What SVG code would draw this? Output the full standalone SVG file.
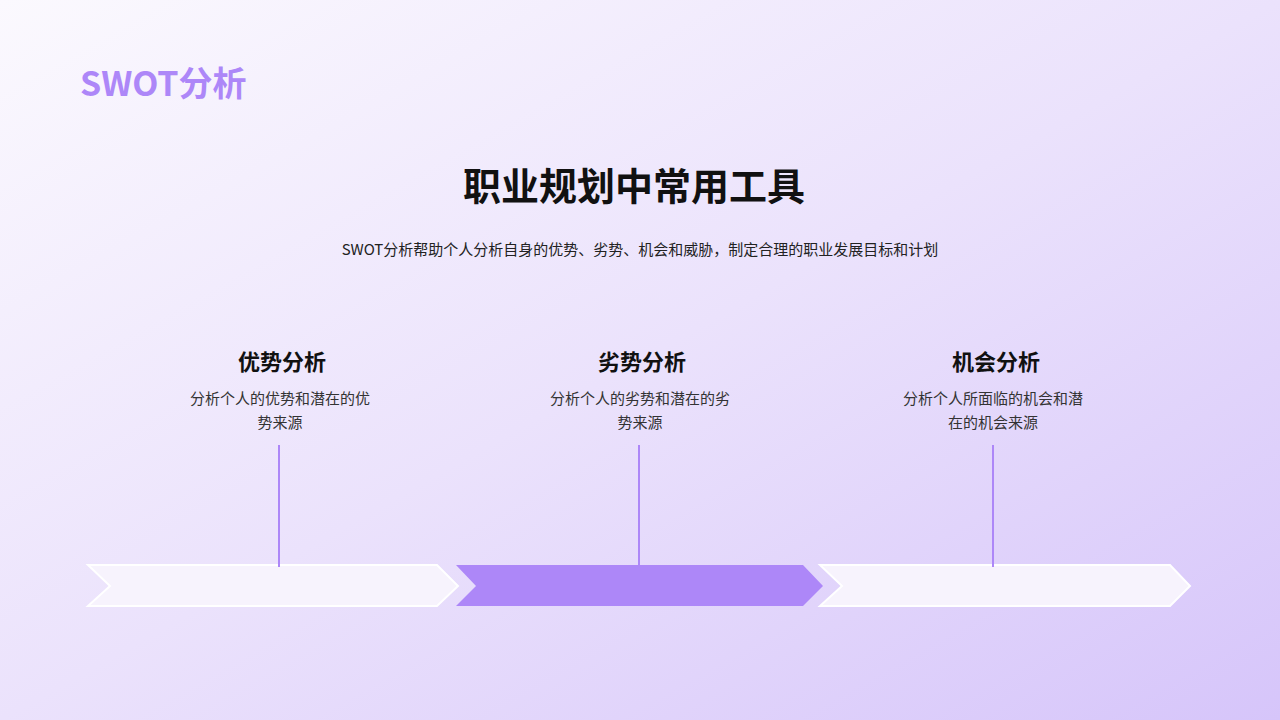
<svg xmlns="http://www.w3.org/2000/svg" width="1280" height="720" viewBox="0 0 1280 720">
<defs>
<linearGradient id="bg" x1="0" y1="0" x2="1" y2="1"><stop offset="0" stop-color="#fbf9fe"/><stop offset="0.5" stop-color="#ebe2fc"/><stop offset="1" stop-color="#d6c5fa"/></linearGradient>
<style>
.t{font-family:"Noto Sans CJK SC","Liberation Sans",sans-serif}
.h{font-size:22px;font-weight:bold;fill:#111;text-anchor:middle}
.d{font-size:15px;fill:#333;text-anchor:middle}
.ln{stroke:#ad87f8;stroke-width:2}
.lite{fill:#f7f3fd;stroke:#fff;stroke-width:2}
</style>
</defs>
<rect width="1280" height="720" fill="url(#bg)"/>
<text class="t" x="80" y="96" font-size="34" font-weight="bold" fill="#ad87f8">SWOT分析</text>
<text class="t" x="634" y="200" font-size="38" font-weight="bold" fill="#111" text-anchor="middle">职业规划中常用工具</text>
<text class="t" x="640" y="255" font-size="15" fill="#222" text-anchor="middle">SWOT分析帮助个人分析自身的优势、劣势、机会和威胁，制定合理的职业发展目标和计划</text>
<g id="arrows">
<polygon class="lite" points="88,565 437,565 458,586 437,606 88,606 110,586"/>
<polygon points="456,565 803,565 823,586 803,606 456,606 476,586" fill="#ad87f8"/>
<polygon class="lite" points="820,565 1170,565 1190,586 1170,606 820,606 842,586"/>
</g>
<g id="connectors">
<line class="ln" x1="279" y1="445" x2="279" y2="567"/>
<line class="ln" x1="639" y1="445" x2="639" y2="567"/>
<line class="ln" x1="993" y1="445" x2="993" y2="567"/>
</g>
<g id="n1"><text class="t h" x="282" y="370">优势分析</text><text class="t d" x="280" y="404">分析个人的优势和潜在的优</text><text class="t d" x="280" y="428">势来源</text></g>
<g id="n2"><text class="t h" x="642" y="370">劣势分析</text><text class="t d" x="640" y="404">分析个人的劣势和潜在的劣</text><text class="t d" x="640" y="428">势来源</text></g>
<g id="n3"><text class="t h" x="996" y="370">机会分析</text><text class="t d" x="993" y="404">分析个人所面临的机会和潜</text><text class="t d" x="993" y="428">在的机会来源</text></g>
</svg>
